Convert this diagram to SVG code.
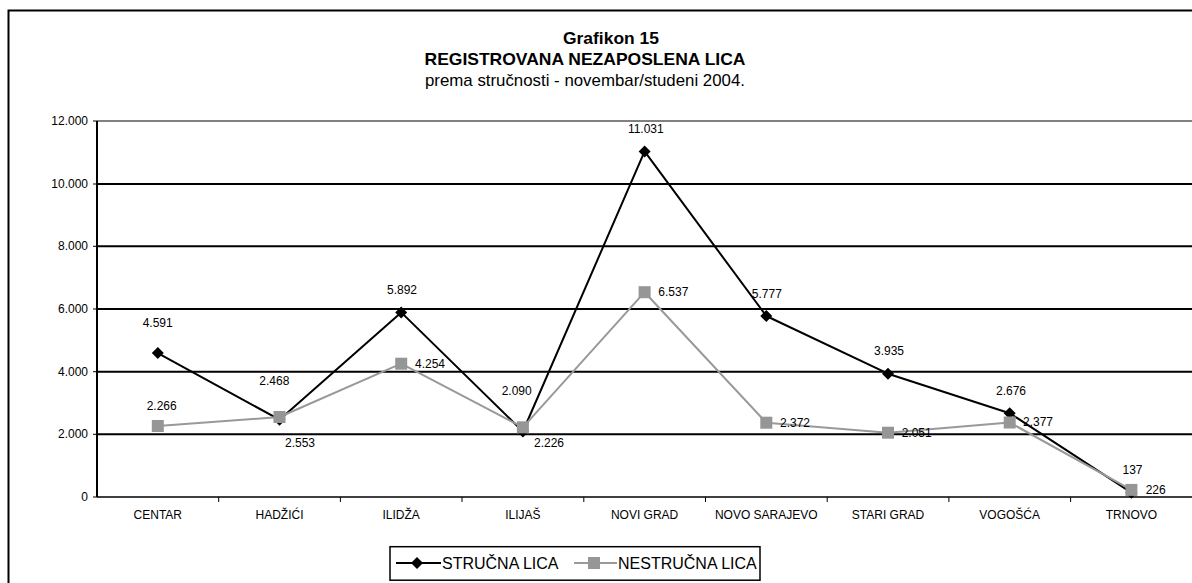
<svg xmlns="http://www.w3.org/2000/svg" width="1192" height="583" viewBox="0 0 1192 583">
<style>
text{font-family:"Liberation Sans",Arial,sans-serif;fill:#000}
.t{font-size:17px;text-anchor:middle}
.b{font-weight:bold}
.ax{font-size:12px;text-anchor:end}
.cat{font-size:12px;text-anchor:middle}
.lbl{font-size:12px;text-anchor:middle}
.lg{font-size:16px}
.grid{stroke:#000;stroke-width:2;fill:none}
.s1{stroke:#000;stroke-width:2;fill:none;stroke-linejoin:round}
.s2{stroke:#999;stroke-width:2;fill:none;stroke-linejoin:round}
.dia{fill:#000}
.sq{fill:#969696}
</style>
<defs>
<path id="d" class="dia" d="M0,-6 L6,0 L0,6 L-6,0 Z"/>
<rect id="q" class="sq" x="-6" y="-6" width="12" height="12"/>
</defs>
<rect id="frame" x="8.5" y="10.5" width="1200" height="600" fill="#fff" stroke="#000" stroke-width="2"/>
<g id="title">
<text class="t b" x="611" y="44" textLength="96" lengthAdjust="spacingAndGlyphs">Grafikon 15</text>
<text class="t b" x="585" y="65" textLength="321" lengthAdjust="spacingAndGlyphs">REGISTROVANA NEZAPOSLENA LICA</text>
<text class="t" x="585" y="86" textLength="320" lengthAdjust="spacingAndGlyphs">prema stručnosti - novembar/studeni 2004.</text>
</g>
<g id="axes">
<line x1="97" y1="121" x2="1192" y2="121" stroke="#808080" stroke-width="2"/>
<line class="grid" x1="97" y1="184" x2="1192" y2="184"/>
<line class="grid" x1="97" y1="246.3" x2="1192" y2="246.3"/>
<line class="grid" x1="97" y1="309" x2="1192" y2="309"/>
<line class="grid" x1="97" y1="371.7" x2="1192" y2="371.7"/>
<line class="grid" x1="97" y1="434.3" x2="1192" y2="434.3"/>
<line x1="97" y1="497" x2="1192" y2="497" stroke="#000" stroke-width="1.5"/>
<line x1="97" y1="121" x2="97" y2="497" stroke="#000" stroke-width="2"/>
<path d="M93,121H97M93,184H97M93,246.3H97M93,309H97M93,371.7H97M93,434.3H97M93,497H97" stroke="#000" stroke-width="1"/>
<path d="M218.7,497V502M340.4,497V502M462,497V502M583.8,497V502M705.5,497V502M827.2,497V502M948.9,497V502M1070.6,497V502" stroke="#000" stroke-width="1"/>
<text class="ax" x="88" y="125">12.000</text>
<text class="ax" x="88" y="188">10.000</text>
<text class="ax" x="88" y="250.3">8.000</text>
<text class="ax" x="88" y="313">6.000</text>
<text class="ax" x="88" y="375.7">4.000</text>
<text class="ax" x="88" y="438.3">2.000</text>
<text class="ax" x="88" y="501">0</text>
<text class="cat" x="157.8" y="519">CENTAR</text>
<text class="cat" x="279.5" y="519">HADŽIĆI</text>
<text class="cat" x="401.2" y="519">ILIDŽA</text>
<text class="cat" x="522.9" y="519">ILIJAŠ</text>
<text class="cat" x="644.6" y="519">NOVI GRAD</text>
<text class="cat" x="766.3" y="519">NOVO SARAJEVO</text>
<text class="cat" x="888" y="519">STARI GRAD</text>
<text class="cat" x="1009.7" y="519">VOGOŠĆA</text>
<text class="cat" x="1131.4" y="519">TRNOVO</text>
</g>
<g id="connectors">
<polyline id="series-strucna" class="s1" points="157.8,353.1 279.5,419.7 401.2,312.4 522.9,431.5 644.6,151.4 766.3,316 888,373.7 1009.7,413.2 1131.4,492.7"/>
<polyline id="series-nestrucna" class="s2" points="157.8,426 279.5,417 401.2,363.7 522.9,427.3 644.6,292.2 766.3,422.7 888,432.7 1009.7,422.5 1131.4,489.9"/>
</g>
<g id="strucna-markers">
<use href="#d" x="157.8" y="353.1"/>
<use href="#d" x="279.5" y="419.7"/>
<use href="#d" x="401.2" y="312.4"/>
<use href="#d" x="522.9" y="431.5"/>
<use href="#d" x="644.6" y="151.4"/>
<use href="#d" x="766.3" y="316"/>
<use href="#d" x="888" y="373.7"/>
<use href="#d" x="1009.7" y="413.2"/>
<use href="#d" x="1131.4" y="492.7"/>
</g>
<g id="nestrucna-markers">
<use href="#q" x="157.8" y="426"/>
<use href="#q" x="279.5" y="417"/>
<use href="#q" x="401.2" y="363.7"/>
<use href="#q" x="522.9" y="427.3"/>
<use href="#q" x="644.6" y="292.2"/>
<use href="#q" x="766.3" y="422.7"/>
<use href="#q" x="888" y="432.7"/>
<use href="#q" x="1009.7" y="422.5"/>
<use href="#q" x="1131.4" y="489.9"/>
</g>
<g id="strucna-labels">
<text class="lbl" x="157.7" y="327">4.591</text>
<text class="lbl" x="274.3" y="385">2.468</text>
<text class="lbl" x="402" y="294">5.892</text>
<text class="lbl" x="516.7" y="395">2.090</text>
<text class="lbl" x="645.8" y="133">11.031</text>
<text class="lbl" x="766.8" y="297.5">5.777</text>
<text class="lbl" x="889" y="355">3.935</text>
<text class="lbl" x="1011" y="395">2.676</text>
<text class="lbl" x="1132.5" y="473.5">137</text>
</g>
<g id="nestrucna-labels">
<text class="lbl" x="161.7" y="410">2.266</text>
<text class="lbl" x="300" y="447">2.553</text>
<text class="lbl" x="430" y="368">4.254</text>
<text class="lbl" x="549" y="447">2.226</text>
<text class="lbl" x="673.3" y="296">6.537</text>
<text class="lbl" x="795" y="427">2.372</text>
<text class="lbl" x="916.7" y="436.5">2.051</text>
<text class="lbl" x="1038" y="426">2.377</text>
<text class="lbl" x="1155.7" y="494">226</text>
</g>
<g id="legend">
<rect x="390" y="546.7" width="370" height="33.5" fill="#fff" stroke="#000" stroke-width="1.5"/>
<line x1="396" y1="563" x2="441" y2="563" class="s1"/>
<use href="#d" x="417" y="563"/>
<text class="lg" x="442" y="569">STRUČNA LICA</text>
<line x1="574" y1="563" x2="617" y2="563" class="s2"/>
<use href="#q" x="594" y="563"/>
<text class="lg" x="618" y="569">NESTRUČNA LICA</text>
</g>
</svg>
